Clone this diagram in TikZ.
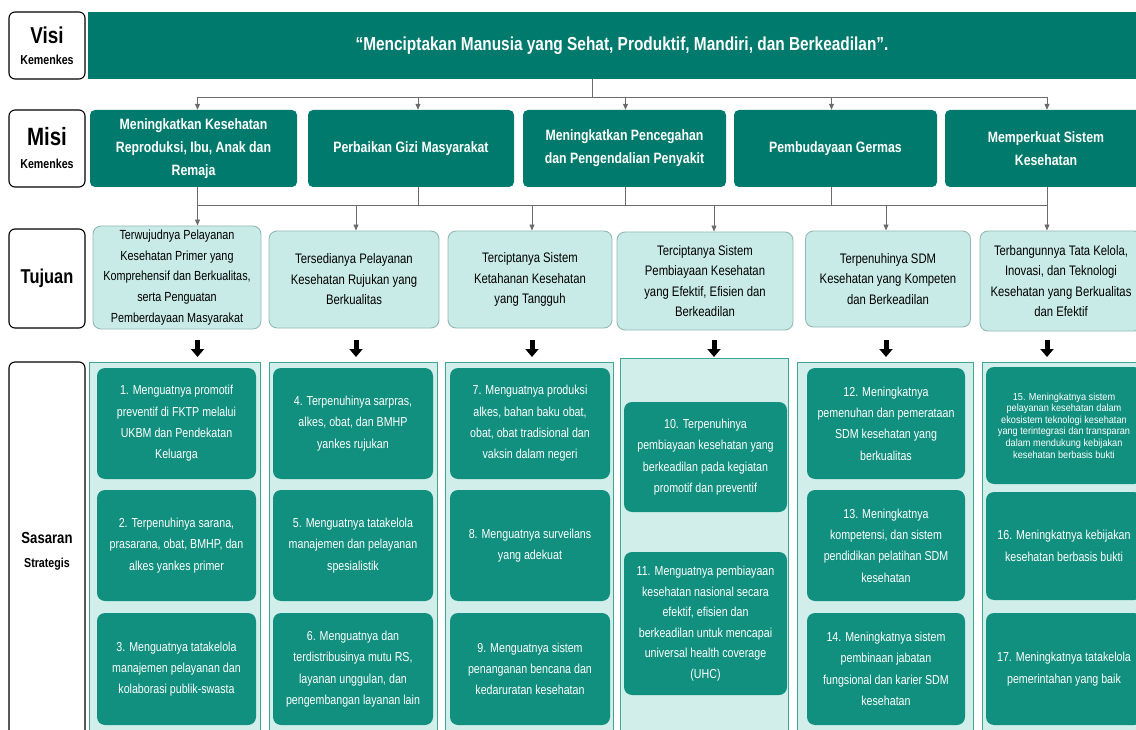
\documentclass[tikz,border=0pt]{standalone}
\usepackage{fontspec}
\setmainfont[FakeStretch=0.82]{Liberation Sans}
\newfontfamily\widefont[FakeStretch=0.9]{Liberation Sans}
\usetikzlibrary{arrows.meta}
\definecolor{visiteal}{HTML}{007A6C}
\definecolor{boxteal}{HTML}{12907F}
\definecolor{tujfill}{HTML}{C8EBE7}
\definecolor{tujline}{HTML}{93B8B3}
\definecolor{panelfill}{HTML}{D2EEEA}
\definecolor{panelline}{HTML}{3FA596}
\definecolor{busline}{HTML}{6B6B6B}

\begin{document}
\begin{tikzpicture}[x=1pt, y=-1pt,
		sz/.style 2 args={minimum width=#1pt, minimum height=#2pt},
		lbl/.style={draw=black, line width=1.1pt, rounded corners=6pt, fill=white, inner sep=0pt, align=center, font=\bfseries, sz={76}{#1}},
		misi/.style={fill=visiteal, rounded corners=5pt, text=white, inner sep=0pt, align=center, font=\bfseries\fontsize{15}{23}\selectfont, sz={#1}{77}},
		tuj/.style={fill=tujfill, draw=tujline, line width=0.9pt, rounded corners=8pt, inner sep=0pt, align=center, font=\fontsize{13.8}{20.5}\selectfont},
		panel/.style={fill=panelfill, draw=panelline, line width=1pt},
		sas/.style={fill=boxteal, rounded corners=8pt, text=white, inner sep=0pt, align=center, font=\fontsize{13}{21.3}\selectfont},
		bus/.style={draw=busline, line width=0.9pt},
		busarrow/.style={bus, -{Triangle[length=6pt, width=5pt]}},
		fatarrow/.style={draw=black, line width=5pt, -{Triangle[length=8pt, width=13pt]}}]
	\useasboundingbox (0,0) rectangle (1136,730);
	\clip (0,0) rectangle (1136,730);

	\node[lbl=67, font=\bfseries\fontsize{13}{21}\selectfont] (visil) at (47,45.5) {{\fontsize{23}{0}\selectfont Visi}\\Kemenkes};
	\node[lbl=77, font=\bfseries\fontsize{13}{23}\selectfont] (misil) at (47,148.5) {{\fontsize{25}{0}\selectfont Misi}\\Kemenkes};
	\node[lbl=99] (tujl) at (47,278.5) {\fontsize{20}{22}\selectfont Tujuan};
	\node[lbl=378, font=\bfseries\fontsize{13}{24}\selectfont] (sasl) at (47,551) {{\fontsize{16}{0}\selectfont Sasaran}\\Strategis};

	\node[fill=visiteal, text=white, font=\bfseries\fontsize{18.8}{20}\selectfont, sz={1068}{67}] (visi) at (622,45.5)
		{“Menciptakan Manusia yang Sehat, Produktif, Mandiri, dan Berkeadilan”.};

	\node[misi=207] (m1) at (193.5,148.5) {Meningkatkan Kesehatan\\Reproduksi, Ibu, Anak dan\\Remaja};
	\node[misi=206] (m2) at (411,148.5) {Perbaikan Gizi Masyarakat};
	\node[misi=203] (m3) at (624.5,148.5) {Meningkatkan Pencegahan\\dan Pengendalian Penyakit};
	\node[misi=203] (m4) at (835.5,148.5) {Pembudayaan Germas};
	\node[misi=202] (m5) at (1046,148.5) {Memperkuat Sistem\\Kesehatan};

	\node[tuj, sz={168}{103}, font=\fontsize{13.2}{20.8}\selectfont] (t1) at (177,277.5)
		{Terwujudnya Pelayanan\\Kesehatan Primer yang\\Komprehensif dan Berkualitas,\\serta Penguatan\\Pemberdayaan Masyarakat};
	\node[tuj, sz={170}{97}] (t2) at (354,279.5)
		{Tersedianya Pelayanan\\Kesehatan Rujukan yang\\Berkualitas};
	\node[tuj, sz={164}{97}] (t3) at (530,279.5)
		{Terciptanya Sistem\\Ketahanan Kesehatan\\yang Tangguh};
	\node[tuj, sz={176}{98}] (t4) at (705,281)
		{Terciptanya Sistem\\Pembiayaan Kesehatan\\yang Efektif, Efisien dan\\Berkeadilan};
	\node[tuj, sz={165}{96}] (t5) at (888,279)
		{Terpenuhinya SDM\\Kesehatan yang Kompeten\\dan Berkeadilan};
	\node[tuj, sz={162}{100}] (t6) at (1061,281)
		{Terbangunnya Tata Kelola,\\Inovasi, dan Teknologi\\Kesehatan yang Berkualitas\\dan Efektif};

	\node[panel, sz={171}{378}] (c1) at (174.5,551) {};
	\node[panel, sz={168}{378}] (c2) at (353,551) {};
	\node[panel, sz={168}{378}] (c3) at (529,551) {};
	\node[panel, sz={168}{382}] (c4) at (704,549) {};
	\node[panel, sz={176}{378}] (c5) at (885,551) {};
	\node[panel, sz={168}{378}] (c6) at (1066,551) {};

	\node[sas, sz={159}{111}] (s1) at (176.5,423.5) {1. Menguatnya promotif\\preventif di FKTP melalui\\UKBM dan Pendekatan\\Keluarga};
	\node[sas, sz={159}{111}] (s2) at (176.5,545.5) {2. Terpenuhinya sarana,\\prasarana, obat, BMHP, dan\\alkes yankes primer};
	\node[sas, sz={159}{112}] (s3) at (176.5,669) {3. Menguatnya tatakelola\\manajemen pelayanan dan\\kolaborasi publik-swasta};
	\node[sas, sz={160}{111}] (s4) at (353,423.5) {4. Terpenuhinya sarpras,\\alkes, obat, dan BMHP\\yankes rujukan};
	\node[sas, sz={160}{111}] (s5) at (353,545.5) {5. Menguatnya tatakelola\\manajemen dan pelayanan\\spesialistik};
	\node[sas, sz={160}{112}] (s6) at (353,669) {6. Menguatnya dan\\terdistribusinya mutu RS,\\layanan unggulan, dan\\pengembangan layanan lain};
	\node[sas, sz={160}{111}] (s7) at (530,423.5) {7. Menguatnya produksi\\alkes, bahan baku obat,\\obat, obat tradisional dan\\vaksin dalam negeri};
	\node[sas, sz={160}{111}] (s8) at (530,545.5) {8. Menguatnya surveilans\\yang adekuat};
	\node[sas, sz={160}{112}] (s9) at (530,669) {9. Menguatnya sistem\\penanganan bencana dan\\kedaruratan kesehatan};
	\node[sas, sz={163}{110}] (s10) at (705.5,457) {10. Terpenuhinya\\pembiayaan kesehatan yang\\berkeadilan pada kegiatan\\promotif dan preventif};
	\node[sas, sz={163}{143}, font=\fontsize{13}{20.5}\selectfont] (s11) at (705.5,623.5) {11. Menguatnya pembiayaan\\kesehatan nasional secara\\efektif, efisien dan\\berkeadilan untuk mencapai\\universal health coverage\\(UHC)};
	\node[sas, sz={158}{111}] (s12) at (886,423.5) {12. Meningkatnya\\pemenuhan dan pemerataan\\SDM kesehatan yang\\berkualitas};
	\node[sas, sz={158}{111}] (s13) at (886,545.5) {13. Meningkatnya\\kompetensi, dan sistem\\pendidikan pelatihan SDM\\kesehatan};
	\node[sas, sz={158}{112}] (s14) at (886,669) {14. Meningkatnya sistem\\pembinaan jabatan\\fungsional dan karier SDM\\kesehatan};
	\node[sas, sz={156}{117}, font=\widefont\fontsize{10.2}{11.6}\selectfont] (s15) at (1064,425.5) {15. Meningkatnya sistem\\pelayanan kesehatan dalam\\ekosistem teknologi kesehatan\\yang terintegrasi dan transparan\\dalam mendukung kebijakan\\kesehatan berbasis bukti};
	\node[sas, sz={156}{108}] (s16) at (1064,546) {16. Meningkatnya kebijakan\\kesehatan berbasis bukti};
	\node[sas, sz={156}{112}] (s17) at (1064,669) {17. Meningkatnya tatakelola\\pemerintahan yang baik};

	\coordinate (busa) at (0,97);
	\coordinate (busb) at (0,205);
	\coordinate (fata) at (0,340);
	\coordinate (fatb) at (0,357);
	\draw[bus] ([xshift=-30pt]visi.south) -- ([xshift=-30pt]visi.south |- busa);
	\draw[bus] ([xshift=4pt]busa -| m1) -- ([xshift=1pt]busa -| m5);
	\foreach \i/\dx in {1/4,2/7,3/1,4/-4,5/1} {
		\draw[busarrow] ([xshift=\dx pt]busa -| m\i) -- ([xshift=\dx pt]m\i.north);
		\draw[bus] ([xshift=\dx pt]m\i.south) -- ([xshift=\dx pt]m\i.south |- busb);
	}
	\draw[bus] ([xshift=4pt]busb -| m1) -- ([xshift=1pt]busb -| m5);
	\coordinate (k1) at ([xshift=4pt]busb -| m1);
	\coordinate (k2) at (356,205);
	\coordinate (k3) at (532,205);
	\coordinate (k4) at (714,205);
	\coordinate (k5) at (886,205);
	\coordinate (k6) at ([xshift=1pt]busb -| m5);
	\foreach \i in {1,...,6} {
		\draw[busarrow] (k\i) -- (k\i |- t\i.north);
		\draw[fatarrow] (k\i |- fata) -- (k\i |- fatb);
	}
\end{tikzpicture}
\end{document}
